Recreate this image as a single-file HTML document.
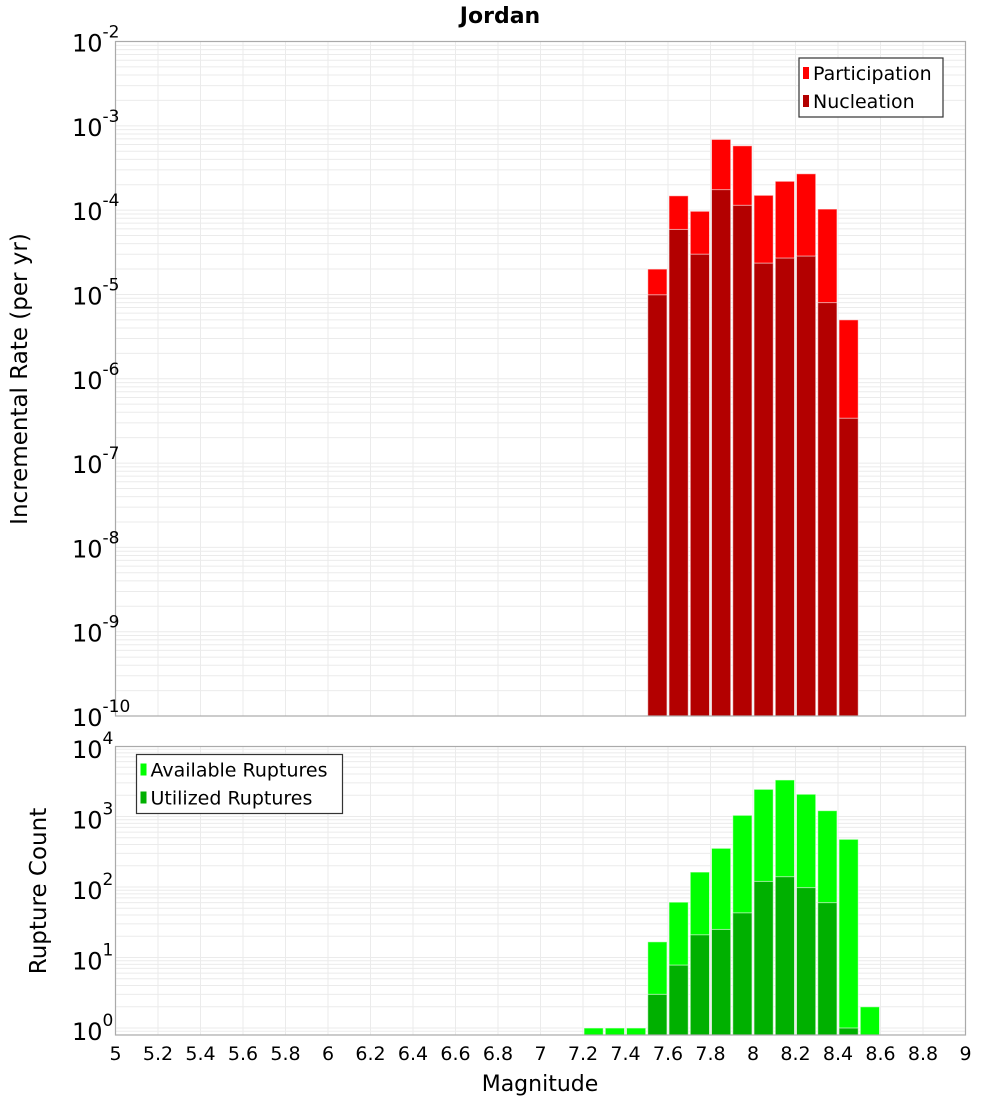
<!DOCTYPE html>
<html><head><meta charset="utf-8"><style>
body{margin:0;background:#fff;width:1000px;height:1100px;overflow:hidden;font-family:"Liberation Sans","DejaVu Sans",sans-serif}
svg text{font-family:"DejaVu Sans","Liberation Sans",sans-serif}
</style></head><body>
<svg id="chart" width="1000" height="1100" xmlns="http://www.w3.org/2000/svg"></svg>
<script>
const magBins = [7.5,7.6,7.7,7.8,7.9,8.0,8.1,8.2,8.3,8.4];
const participation = [2.0e-5,1.48e-4,9.7e-5,6.9e-4,5.8e-4,1.5e-4,2.2e-4,2.7e-4,1.03e-4,5.0e-6];
const nucleation = [9.9e-6,5.9e-5,3.0e-5,1.75e-4,1.14e-4,2.35e-5,2.7e-5,2.85e-5,8.0e-6,3.4e-7];
const countBins = [7.2,7.3,7.4,7.5,7.6,7.7,7.8,7.9,8.0,8.1,8.2,8.3,8.4,8.5];
const availableRuptures = [1,1,1,16.7,61,163,354,1040,2430,3300,2070,1210,475,2];
const utilizedRuptures = [0,0,0,3,7.8,21,25,43,120,140,98,60,1,0];
const xTicks = [5,5.2,5.4,5.6,5.8,6,6.2,6.4,6.6,6.8,7,7.2,7.4,7.6,7.8,8,8.2,8.4,8.6,8.8,9];
const topExps = [-2,-3,-4,-5,-6,-7,-8,-9,-10];
const botExps = [4,3,2,1,0];

const NS='http://www.w3.org/2000/svg';
const svg=document.getElementById('chart');
function mk(tag,attrs,parent){const e=document.createElementNS(NS,tag);for(const k in attrs)e.setAttribute(k,attrs[k]);(parent||svg).appendChild(e);return e;}
const L=115.5,R=965.5;
const xS=m=>L+(m-5)/4*(R-L);
const T1=41.5,B1=716;
const yTop=v=>T1+(-2-Math.log10(v))*(B1-T1)/8;
const T2=746.5,B2=1035;
const yBot=v=>1028-Math.log10(v)*70.5;

function grid(top,bot,yf,decLo,decHi){
  for(let d=decLo;d<decHi;d++){for(let k=1;k<10;k++){const y=yf(k*Math.pow(10,d));if(y>=top&&y<=bot){const l=mk('line',{x1:L,x2:R,y1:y,y2:y,stroke:'#ebebeb','stroke-width':1});}}}
  xTicks.forEach(t=>{const x=xS(t);const l=mk('line',{x1:x,x2:x,y1:top,y2:bot,stroke:'#ebebeb','stroke-width':1});});
}
grid(T1,B1,yTop,-10,-1);
grid(T2,B2,yBot,-1,5);

function bars(bins,vals,yf,bot,color,name){
  bins.forEach((m,i)=>{const v=vals[i];if(!(v>0))return;const x0=xS(m),x1=xS(m+0.1);const y=Math.max(yf(v),0);
    const r=mk('rect',{x:x0+1,y:y,width:x1-x0-2,height:bot-y,fill:color,stroke:'#fff','stroke-opacity':0.6,'stroke-width':1});
    
    });
}
bars(magBins,participation,yTop,B1,'#ff0000','participation');
bars(magBins,nucleation,yTop,B1,'#b30000','nucleation');
bars(countBins,availableRuptures,yBot,B2,'#00ff00','available');
bars(countBins,utilizedRuptures,yBot,B2,'#00b000','utilized');

let f=mk('rect',{x:L,y:T1,width:R-L,height:B1-T1,fill:'none',stroke:'#aaa','stroke-width':1.2});

f=mk('rect',{x:L,y:T2,width:R-L,height:B2-T2,fill:'none',stroke:'#aaa','stroke-width':1.2});


function ylab(exp,y,name){const t=mk('text',{x:72,y:y+10,'font-size':24,fill:'#000'});t.textContent='10';
  const s=document.createElementNS(NS,'tspan');s.setAttribute('dy','-14');s.setAttribute('font-size','17');s.textContent=String(exp);t.appendChild(s);
  }
topExps.forEach(e=>ylab(e,yTop(Math.pow(10,e)),'top-y-tick-label'));
botExps.forEach(e=>ylab(e,yBot(Math.pow(10,e))+2,'bottom-y-tick-label'));
xTicks.forEach(t=>{const x=mk('text',{x:xS(t),y:1060,'font-size':19,'text-anchor':'middle',fill:'#000'});x.textContent=String(t);
  });

let t=mk('text',{x:500,y:23,'font-size':22,'font-weight':'bold','text-anchor':'middle'});t.textContent='Jordan';

t=mk('text',{x:540,y:1091,'font-size':22,'text-anchor':'middle'});t.textContent='Magnitude';

t=mk('text',{x:0,y:0,'font-size':23,'text-anchor':'middle',transform:'translate(27,379) rotate(-90)'});t.textContent='Incremental Rate (per yr)';

t=mk('text',{x:0,y:0,'font-size':23,'text-anchor':'middle',transform:'translate(46,891) rotate(-90)'});t.textContent='Rupture Count';


function legend(x,y,w,h,items,name){
  const g=mk('g',{});
  mk('rect',{x:x,y:y,width:w,height:h,fill:'#fff',stroke:'#333','stroke-width':1.2},g);
  items.forEach((it,i)=>{const cy=y+15+i*28;
    const r=mk('rect',{x:x+4,y:cy-6,width:6,height:12,fill:it[1]},g);
    
    const tx=mk('text',{x:x+14,y:cy+7,'font-size':19,fill:'#000'},g);tx.textContent=it[0];
    });
}
legend(799,58,144,59,[['Participation','#ff0000'],['Nucleation','#b30000']],'top-legend');
legend(136.5,754.5,206,59,[['Available Ruptures','#00ff00'],['Utilized Ruptures','#00b000']],'bottom-legend');
</script>
</body></html>
